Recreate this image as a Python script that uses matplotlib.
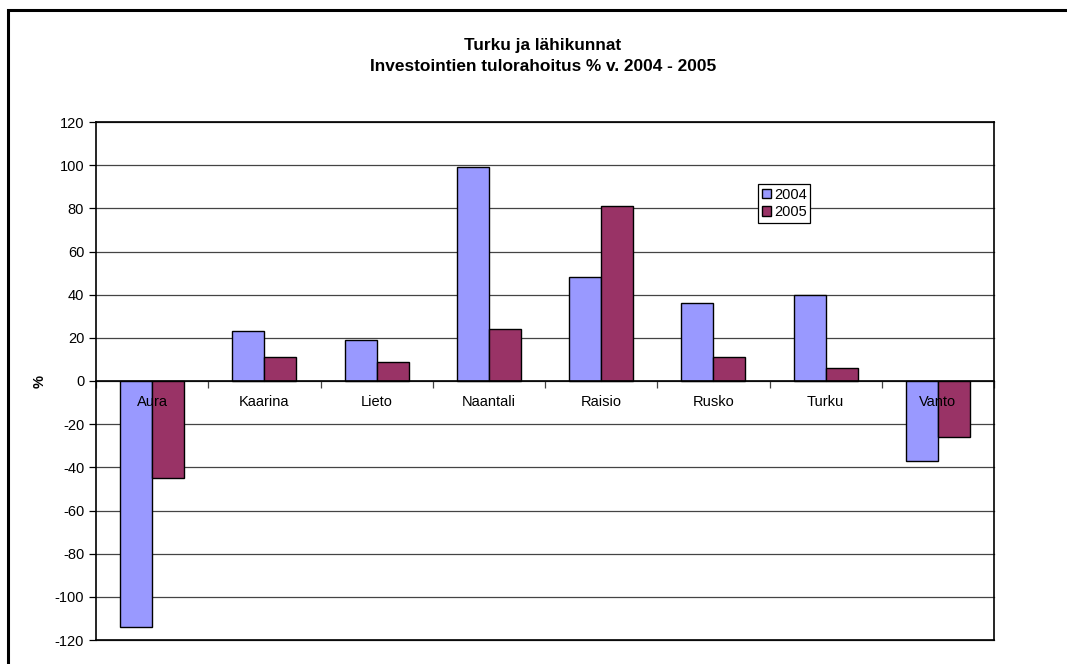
import numpy as np
import matplotlib.pyplot as plt
from matplotlib.patches import Rectangle

# data
kunnat = ['Aura', 'Kaarina', 'Lieto', 'Naantali', 'Raisio', 'Rusko', 'Turku', 'Vanto']
v2004 = [-114, 23, 19, 99, 48, 36, 40, -37]
v2005 = [-45, 11, 9, 24, 81, 11, 6, -26]
yticks = list(range(-120, 121, 20))

plt.rcParams['font.family'] = ['Liberation Sans', 'DejaVu Sans']
plt.rcParams['axes.unicode_minus'] = False

W, H = 1067, 664
fig = plt.figure(figsize=(W / 100, H / 100), dpi=100)

# chart frame (left and top edge visible, rest outside the image)
fig.patches.append(Rectangle((8 / W, -0.1), 1.2, 1 - 10 / H + 0.1, transform=fig.transFigure,
                             fill=False, edgecolor='black', linewidth=2.2))

ax = fig.add_axes([96 / W, 1 - 640 / H, (994 - 96) / W, (640 - 122) / H])

x = np.arange(len(kunnat))
bw = 1 / 3.5
ax.bar(x - bw / 2, v2004, bw, color='#9999FF', edgecolor='black', linewidth=1, label='2004', zorder=1)
ax.bar(x + bw / 2, v2005, bw, color='#993366', edgecolor='black', linewidth=1, label='2005', zorder=1)

for y in yticks:
    ax.axhline(y, color='#444444', linewidth=0.9, zorder=0, clip_on=False)
ax.axhline(-120, color='black', linewidth=1.2, zorder=0, clip_on=False)

ax.set_xlim(-0.5, len(kunnat) - 0.5)
ax.set_ylim(-120, 120)
ax.set_yticks(yticks)
ax.tick_params(axis='y', direction='out', length=5, labelsize=10.5, width=0.9)

# category axis at zero
ax.spines['bottom'].set_position(('data', 0))
ax.set_xticks(np.arange(len(kunnat) + 1) - 0.5)
ax.set_xticklabels([])
ax.tick_params(axis='x', which='major', direction='out', length=5, width=0.9, color='#444444')
ax.set_xticks(x, minor=True)
ax.set_xticklabels(kunnat, minor=True)
ax.tick_params(axis='x', which='minor', length=0, labelsize=10.5, pad=10)
for s in ax.spines.values():
    s.set_linewidth(1.2)
ax.patch.set_visible(False)

fig.text(40 / W, 1 - 381 / H, '%', rotation=90, ha='center', va='center', fontsize=10.5, fontweight='bold')

fig.text(543 / W, 1 - 56 / H, 'Turku ja lähikunnat\nInvestointien tulorahoitus % v. 2004 - 2005',
         ha='center', va='center', fontsize=12.4, fontweight='bold', linespacing=1.5)

leg = ax.legend(loc='upper left', bbox_to_anchor=(758 / W, 1 - 184 / H), bbox_transform=fig.transFigure,
                fontsize=10.5, fancybox=False, framealpha=1, edgecolor='black', borderpad=0.25,
                handlelength=0.65, handleheight=0.65, handletextpad=0.2, labelspacing=0.25,
                borderaxespad=0)
leg.get_frame().set_linewidth(0.9)

fig.savefig('out.png', dpi=100)
